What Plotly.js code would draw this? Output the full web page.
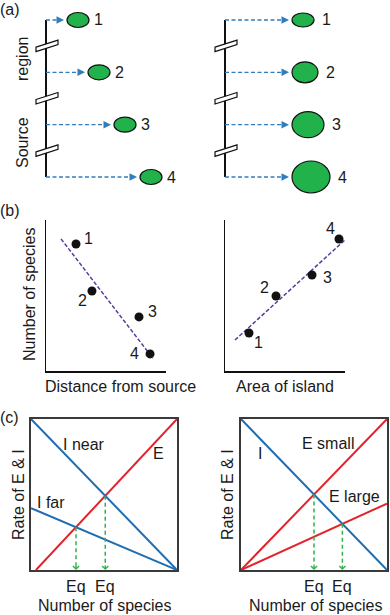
<!DOCTYPE html>
<html><head><meta charset="utf-8">
<script src="https://cdn.plot.ly/plotly-3.0.1.min.js"></script>
<style>html,body{margin:0;padding:0;background:#fff}#chart{width:390px;height:615px}</style>
</head><body><div id="chart"></div>
<script>
// ---------------- data ----------------
const islandLabels = ['1', '2', '3', '4'];
const islandRow = [1, 2, 3, 4];
// (a) left: islands of equal size at increasing distance from the source region
const distanceNear = [21, 42, 68, 94];
const equalSizeRx = [11, 11, 11, 11];
const equalSizeRy = [7.5, 7.5, 7.5, 7.5];
// (a) right: islands at equal distance with increasing size
const distanceEqual = [67, 67, 67, 67];
const areaSizeRx = [11, 13, 16, 19];
const areaSizeRy = [7, 10.5, 13, 16];
// (b) left: species vs distance
const distX = [0.25, 0.383, 0.775, 0.867];
const distSpecies = [0.841, 0.53, 0.358, 0.113];
const distTrendX = [0.125, 0.89];
const distTrendY = [0.875, 0.085];
// (b) right: species vs area
const areaX = [0.2, 0.425, 0.725, 0.95];
const areaSpecies = [0.252, 0.497, 0.636, 0.874];
const areaTrendX = [0.083, 1.0];
const areaTrendY = [0.205, 0.868];
// (c) left: immigration (near / far) and extinction
const speciesAxis = [0, 1];
const immNear = [1, 0];
const immFar = [0.41, 0];
const extX = [0.034, 1];
const extY = [0, 1];
// (c) right: immigration and extinction (small / large)
const immigration = [1, 0];
const extSmall = [0, 1];
const extLarge = [0, 0.44];

// ---------------- helpers ----------------
const W = 390, H = 615;
const fx = p => p / W;
const fy = p => 1 - p / H;
const FONT = {family: 'Liberation Sans, Arial, sans-serif', size: 16, color: '#1a1a1a'};
const BLUE_ARROW = '#2f7dbd';
const GREEN = '#22b24c';
const BLUE = '#1f6db3';
const RED = '#e2232b';
const GREEN_DASH = '#2fb34a';
const PURPLE = '#5b3a9c';

const traces = [], shapes = [], annotations = [];

function intersect(ax, ay, bx, by) {
  const m1 = (ay[1] - ay[0]) / (ax[1] - ax[0]), c1 = ay[0] - m1 * ax[0];
  const m2 = (by[1] - by[0]) / (bx[1] - bx[0]), c2 = by[0] - m2 * bx[0];
  const x = (c2 - c1) / (m1 - m2);
  return [x, m1 * x + c1];
}

function text(t, px, py, opts) {
  annotations.push(Object.assign({xref: 'paper', yref: 'paper', x: fx(px), y: fy(py),
    xanchor: 'center', yanchor: 'middle', showarrow: false, text: t, font: FONT}, opts || {}));
}

// ---------------- panel (a) ----------------
function panelA(xa, ya, dist, rx, ry, labelGap) {
  traces.push({type: 'scatter', mode: 'lines', xaxis: xa, yaxis: ya, x: [0, 0],
    y: [islandRow[0], islandRow[islandRow.length - 1]], line: {color: '#111', width: 2}, hoverinfo: 'skip'});
  for (let i = 0; i < islandRow.length - 1; i++) {
    const yb = (islandRow[i] + islandRow[i + 1]) / 2;
    shapes.push({type: 'path', xref: xa, yref: ya, xsizemode: 'pixel', ysizemode: 'pixel',
      xanchor: 0, yanchor: yb, path: 'M-10,-1L12,6L12,1.5L-10,-5.5Z',
      fillcolor: '#fff', line: {color: '#111', width: 1.2}});
  }
  islandRow.forEach((row, i) => {
    const tip = dist[i] - 3;
    traces.push({type: 'scatter', mode: 'lines', xaxis: xa, yaxis: ya, x: [0, tip - 5], y: [row, row],
      line: {color: BLUE_ARROW, width: 1.3, dash: '4px,2.5px'}, hoverinfo: 'skip'});
    annotations.push({xref: xa, yref: ya, x: tip, y: row, ax: -7, ay: 0, showarrow: true,
      arrowhead: 2, arrowsize: 1, arrowwidth: 1.5, arrowcolor: BLUE_ARROW, text: ''});
    const cx = dist[i] + rx[i];
    shapes.push({type: 'circle', xref: xa, yref: ya, xsizemode: 'pixel', ysizemode: 'pixel',
      xanchor: cx, yanchor: row, x0: -rx[i], x1: rx[i], y0: -ry[i], y1: ry[i],
      fillcolor: GREEN, line: {color: '#111', width: 1.2}});
    annotations.push({xref: xa, yref: ya, x: cx, y: row, xshift: rx[i] + labelGap, showarrow: false,
      text: islandLabels[i], font: FONT});
  });
}
panelA('x', 'y', distanceNear, equalSizeRx, equalSizeRy, 9);
panelA('x2', 'y2', distanceEqual, areaSizeRx, areaSizeRy, 12);

// ---------------- panel (b) ----------------
function panelB(xa, ya, xs, ys, tx, ty, offs) {
  traces.push({type: 'scatter', mode: 'lines', xaxis: xa, yaxis: ya, x: tx, y: ty,
    line: {color: PURPLE, width: 1.5, dash: '4px,2px'}, hoverinfo: 'skip'});
  traces.push({type: 'scatter', mode: 'markers', xaxis: xa, yaxis: ya, x: xs, y: ys,
    marker: {color: '#111', size: 9}, cliponaxis: false, hoverinfo: 'skip'});
  xs.forEach((v, i) => {
    annotations.push({xref: xa, yref: ya, x: v, y: ys[i], xshift: offs[i][0], yshift: -offs[i][1],
      showarrow: false, text: islandLabels[i], font: FONT});
  });
}
panelB('x3', 'y3', distX, distSpecies, distTrendX, distTrendY, [[12, -6], [-9, 10], [13, -5], [-16, 0]]);
panelB('x4', 'y4', areaX, areaSpecies, areaTrendX, areaTrendY, [[9, 10], [-12, -8], [15, 3], [-9, -11]]);

// ---------------- panel (c) ----------------
function line(xa, ya, x, y, color) {
  traces.push({type: 'scatter', mode: 'lines', xaxis: xa, yaxis: ya, x: x, y: y,
    line: {color: color, width: 2}, hoverinfo: 'skip'});
}
function eqArrow(xa, ya, pt) {
  traces.push({type: 'scatter', mode: 'lines', xaxis: xa, yaxis: ya, x: [pt[0], pt[0]], y: [pt[1], 0.03],
    line: {color: GREEN_DASH, width: 1.5, dash: '4px,3px'}, hoverinfo: 'skip'});
  annotations.push({xref: xa, yref: ya, x: pt[0], y: 0, ax: 0, ay: -6, showarrow: true,
    arrowhead: 4, arrowsize: 0.8, arrowwidth: 1.5, arrowcolor: GREEN_DASH, text: ''});
  annotations.push({xref: xa, yref: 'paper', x: pt[0], y: fy(586), showarrow: false, text: 'Eq',
    font: FONT, xanchor: 'center', yanchor: 'middle'});
}
line('x5', 'y5', extX, extY, RED);
line('x5', 'y5', speciesAxis, immNear, BLUE);
line('x5', 'y5', speciesAxis, immFar, BLUE);
eqArrow('x5', 'y5', intersect(speciesAxis, immFar, extX, extY));
eqArrow('x5', 'y5', intersect(speciesAxis, immNear, extX, extY));

line('x6', 'y6', speciesAxis, extSmall, RED);
line('x6', 'y6', speciesAxis, extLarge, RED);
line('x6', 'y6', speciesAxis, immigration, BLUE);
eqArrow('x6', 'y6', intersect(speciesAxis, immigration, speciesAxis, extSmall));
eqArrow('x6', 'y6', intersect(speciesAxis, immigration, speciesAxis, extLarge));

// ---------------- text ----------------
text('(a)', 10, 9);
text('region', 22, 59, {textangle: -90});
text('Source', 22, 143, {textangle: -90});
text('(b)', 10, 211);
text('Number of species', 29, 295, {textangle: -90});
text('Distance from source', 43, 386, {xanchor: 'left'});
text('Area of island', 285, 386);
text('(c)', 9, 417);
text('Rate of E &amp; I', 18, 495, {textangle: -90});
text('Rate of E &amp; I', 227, 495, {textangle: -90});
text('Number of species', 104, 605);
text('Number of species', 315, 605);
text('I near', 84, 444);
text('E', 158, 454);
text('I far', 51, 502);
text('I', 260, 454);
text('E small', 328, 443);
text('E large', 354, 496);

// ---------------- axes ----------------
const hidden = (d, r) => ({domain: d, range: r, visible: false, fixedrange: true});
const bAxis = (d) => ({domain: d, range: [0, 1], showline: true, linecolor: '#111', linewidth: 1.5,
  ticks: '', showticklabels: false, showgrid: false, zeroline: false, fixedrange: true});
const cAxis = (d) => ({domain: d, range: [0, 1], showline: true, mirror: true, linecolor: '#3a3a3a', linewidth: 2,
  ticks: '', showticklabels: false, showgrid: false, zeroline: false, fixedrange: true});
const aY = [fy(196), fy(8)];
const aYRange = [4.363, 0.771];

const layout = {
  width: W, height: H, margin: {l: 0, r: 0, t: 0, b: 0},
  showlegend: false, paper_bgcolor: '#fff', plot_bgcolor: 'rgba(0,0,0,0)',
  xaxis: hidden([fx(30), fx(195)], [-16, 149]),
  yaxis: hidden(aY, aYRange),
  xaxis2: hidden([fx(205), fx(390)], [-20, 165]),
  yaxis2: hidden(aY, aYRange),
  xaxis3: bAxis([fx(46), fx(166)]),
  yaxis3: bAxis([fy(371), fy(220)]),
  xaxis4: bAxis([fx(225), fx(345)]),
  yaxis4: bAxis([fy(371), fy(220)]),
  xaxis5: cAxis([fx(31), fx(177)]),
  yaxis5: cAxis([fy(570), fy(419)]),
  xaxis6: cAxis([fx(241), fx(387)]),
  yaxis6: cAxis([fy(570), fy(419)]),
  shapes: shapes,
  annotations: annotations
};
['', '2', '3', '4', '5', '6'].forEach(s => {
  layout['xaxis' + s].anchor = 'y' + s;
  layout['yaxis' + s].anchor = 'x' + s;
});

Plotly.newPlot('chart', traces, layout, {staticPlot: true, displayModeBar: false});
</script>
</body></html>
